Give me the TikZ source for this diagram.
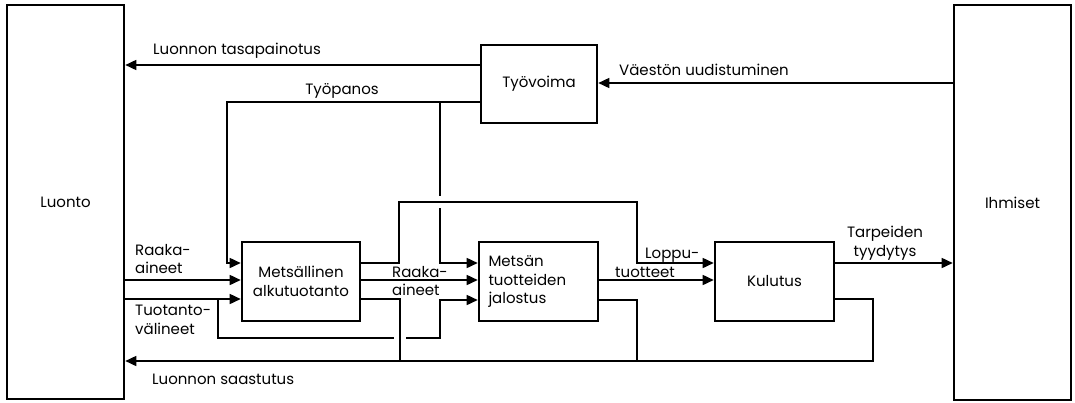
\documentclass[tikz,border=0pt]{standalone}
\usepackage{fontspec}
\setmainfont{Poppins}
\usetikzlibrary{arrows.meta,calc,positioning}

\begin{document}
\begin{tikzpicture}[x=1pt,y=-1pt,>={Triangle[length=11pt,width=10pt]},
    font=\fontsize{15}{18.5}\selectfont,
    lohko/.style={draw,line width=2.6pt,inner sep=0pt},
    virta/.style={line width=1.6pt,->},
    viiva/.style={line width=1.6pt},
    teksti/.style={inner sep=0pt,align=left}]
  \useasboundingbox (0,0) rectangle (1075,402);
  % outer blocks
  \node[lohko,minimum width=117pt,minimum height=394pt] (luonto) at (65.5,202) {Luonto};
  \node[lohko,minimum width=117pt,minimum height=395pt] (ihmiset) at (1012.5,202.5) {Ihmiset};
  % inner blocks
  \node[lohko,minimum width=116pt,minimum height=78pt] (tyovoima) at (539,84) {Työvoima};
  \node[lohko,minimum width=118pt,minimum height=79pt,align=center] (alku) at (301,281.5)
       {Metsällinen\\alkutuotanto};
  \node[lohko,minimum width=119pt,minimum height=79pt,align=left,text width=100pt] (jalostus)
       at (538.5,281.5) {Metsän\\tuotteiden\\jalostus};
  \node[lohko,minimum width=119pt,minimum height=79pt] (kulutus) at (774.5,281.5) {Kulutus};
  % flows round Työvoima
  \draw[virta] (tyovoima.west |- 0,65) -- (luonto.east |- 0,65);
  \draw[virta] (ihmiset.west |- 0,83) -- (tyovoima.east |- 0,83);
  \draw[virta] (tyovoima.west |- 0,102) -| (227,263) -- (alku.west |- 0,263);
  \coordinate (haara) at (440,102);
  \draw[viiva] (haara) -- (440,196);
  \draw[virta] (440,208) -- (440,263) -- (jalostus.west |- 0,263);
  % inputs from Luonto
  \draw[virta] (luonto.east |- 0,280) -- (alku.west |- 0,280);
  \draw[virta] (luonto.east |- 0,299) -- (alku.west |- 0,299);
  \draw[viiva] (218,299) |- (394,338);
  \draw[virta] (406,338) -| (440,300) -- (jalostus.west |- 0,300);
  % outputs
  \draw[virta] (alku.east |- 0,263) -| (399,202) -| (637,263) -- (kulutus.west |- 0,263);
  \draw[virta] (alku.east |- 0,280) -- (jalostus.west |- 0,280);
  \draw[viiva] (alku.east |- 0,299) -| (400,361);
  \draw[virta] (jalostus.east |- 0,280) -- (kulutus.west |- 0,280);
  \draw[viiva] (jalostus.east |- 0,300) -| (637,361);
  \draw[virta] (kulutus.east |- 0,263) -- (ihmiset.west |- 0,263);
  \draw[virta] (kulutus.east |- 0,299) -| (873,361) -- (luonto.east |- 0,361);
  % labels
  \node[teksti,anchor=west] (tasap) at (153,51) {Luonnon tasapainotus};
  \node[teksti] (panos) at (342,91) {Työpanos};
  \node[teksti,anchor=west] (vaesto) at (619,70) {Väestön uudistuminen};
  \node[teksti,anchor=west] (raaka1) at (135,259) {Raaka-\\aineet};
  \node[teksti,anchor=west] (valine) at (135,320) {Tuotanto-\\välineet};
  \node[teksti,anchor=west] (raaka2) at (392,281) {Raaka-\\aineet};
  \node[teksti,anchor=west] (loppu) at (645,255) {Loppu-};
  \node[teksti,anchor=west] (tuotteet) at (615,272) {tuotteet};
  \node[teksti,align=center] (tarve) at (885,243) {Tarpeiden\\tyydytys};
  \node[teksti,anchor=west] (saaste) at (152,379) {Luonnon saastutus};
\end{tikzpicture}
\end{document}
